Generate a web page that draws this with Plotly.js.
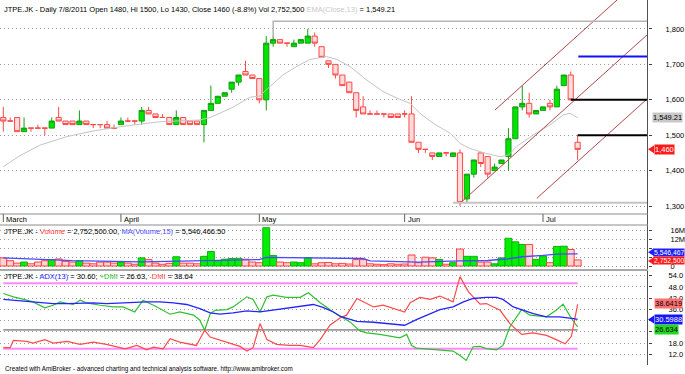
<!DOCTYPE html>
<html><head><meta charset="utf-8">
<script src="https://cdn.plot.ly/plotly-3.0.1.min.js"></script>
<style>html,body{margin:0;padding:0;background:#fff;}#chart{width:685px;height:374px;}</style>
</head><body><div id="chart"></div>
<script>
// ---------- data ----------
const opens  = [1550,1540,1550,1510,1520,1520,1520,1520,1550,1540, 1540,1530,1540,1530,1530,1530,1520,1530,1540,1540, 1540,1570,1560,1550,1550,1530,1550,1540,1540,1530, 1570,1590,1610,1630,1650,1680,1670,1660,1600,1760, 1770,1760,1750,1760,1760,1780,1750,1710,1700,1670, 1650,1620,1580,1560,1560,1560,1560,1560,1560,1560, 1480,1460,1450,1440,1450,1440,1450,1320,1390,1450, 1440,1400,1420,1440,1490,1580,1590,1560,1570,1590, 1580,1640,1670,1480];
const highs  = [1580,1550,1550,1550,1520,1530,1520,1550,1580,1540, 1540,1570,1540,1530,1530,1540,1530,1550,1550,1540, 1580,1580,1560,1560,1550,1570,1550,1540,1540,1570, 1640,1610,1620,1650,1670,1710,1670,1660,1780,1780, 1770,1760,1770,1770,1800,1790,1750,1710,1700,1670, 1650,1620,1610,1570,1570,1560,1560,1560,1570,1610, 1480,1460,1450,1450,1450,1450,1460,1390,1430,1450, 1440,1420,1430,1520,1580,1640,1620,1570,1580,1600, 1640,1670,1680,1500];
const lows   = [1510,1540,1510,1510,1510,1520,1500,1520,1540,1530, 1530,1530,1530,1520,1520,1520,1520,1530,1540,1530, 1530,1560,1550,1550,1530,1530,1530,1530,1530,1480, 1570,1590,1610,1620,1640,1670,1660,1590,1570,1750, 1760,1750,1750,1760,1760,1750,1720,1690,1660,1640, 1620,1550,1560,1560,1560,1550,1550,1550,1550,1480, 1450,1450,1430,1440,1440,1440,1300,1310,1380,1410, 1380,1400,1420,1400,1490,1570,1550,1560,1570,1570, 1580,1640,1600,1430];
const closes = [1540,1540,1510,1520,1520,1520,1520,1540,1540,1530, 1530,1540,1530,1530,1530,1520,1520,1540,1540,1540, 1570,1560,1550,1550,1530,1550,1530,1530,1530,1570, 1590,1610,1620,1650,1670,1670,1660,1600,1760,1770, 1760,1760,1760,1770,1780,1760,1720,1700,1670,1640, 1620,1570,1560,1560,1560,1560,1550,1550,1560,1480, 1460,1460,1440,1450,1450,1450,1310,1390,1430,1420, 1390,1410,1430,1490,1580,1590,1560,1570,1580,1580, 1630,1670,1600,1460];
// volume in millions of shares
const volumes = [3.7,2.4,1.3,1.8,1.0,1.8,2.4,2.9,3.2,2.1, 1.8,2.4,1.3,1.0,1.8,1.8,1.3,1.8,1.3,0.8, 3.7,2.9,1.3,0.8,1.2,4.2,1.3,1.3,1.0,4.4, 6.6,2.4,3.1,3.4,3.5,3.1,1.8,1.5,17.4,4.8, 1.8,1.5,1.8,1.5,3.7,1.0,1.5,1.6,1.0,1.2, 0.9,2.9,2.9,1.0,0.8,0.6,1.0,0.8,0.9,5.0, 1.5,4.0,3.7,3.0,0.8,1.5,7.7,4.4,4.4,1.8, 1.8,1.0,3.7,12.6,11.0,9.8,9.8,3.0,4.5,1.5, 8.9,9.0,7.5,2.75];
// EMA(Close,13) read at bar positions
const emaX = [0,2.4,5.3,9.2,13,16.9,22.6,28.4,29.9,33.2,35.6,37.1,38.5,40.4,42.4,44.3,46.7,48.2,50.1,52.5,54.9,57.3,58.8,60.2,62.1,64.6,66,67.4,69.3,71.8,73,74.2,76.5,79,80.9,81.9,83];
const emaY = [1411,1442,1472,1496,1512,1524,1538,1543,1550,1579,1607,1611,1637,1670,1694,1714,1722,1714,1694,1656,1623,1601,1590,1562,1534,1505,1477,1463,1451,1439,1444,1468,1500,1529,1557,1562,1549.21];
// MA(Volume,15) in millions
const maX = [0,5,10,20,30,37,38,45,52,53,60,66,70,73,75,78,80,83];
const maY = [3.7,3.2,2.4,1.9,2.3,2.9,3.9,3.7,3.4,2.3,1.8,2.3,2.5,3.3,4.2,4.8,5.4,5.5465];
// ADX(13), +DMI, -DMI
const adxX = [0,1.45,3.4,5.3,7.2,9.2,11.1,13.0,14.9,16.9,18.8,20.7,22.6,24.6,26.5,28.4,29.9,31.3,33.2,35.2,37.1,39.0,40.9,42.9,44.8,46.2,47.7,48.7,49.6,51.1,53.5,55.9,58.0,59.7,61.7,63.1,65.0,66.5,67.9,69.8,71.3,72.2,73.7,75.1,76.6,78.5,80.4,82.4,83];
const adxY = [41.3,40.9,40.0,39.5,39.1,39.1,39.5,39.5,39.1,39.5,39.5,40.0,40.0,39.5,38.6,36.4,34.1,33.4,34.1,35.2,34.6,35.5,36.4,37.7,38.6,37.0,34.6,32.2,31.1,29.6,29.1,28.4,27.5,30.5,33.7,35.9,37.3,40.0,41.8,42.4,42.4,41.3,37.3,35.5,33.7,32.0,32.0,31.1,30.60];
const pdiX = [0,1.45,3.4,4.3,6.0,7.2,8.2,9.2,10.1,11.1,12.0,14.0,15.9,17.3,19.0,20.2,22.2,24.1,25.5,27.5,28.4,29.1,29.9,30.6,32.3,33.2,35.2,36.1,37.1,38.1,39.0,40.9,42.9,44.1,45.8,47.7,48.7,50.1,51.5,52.5,54.4,57.3,58.3,59.0,59.7,62.1,65.0,66.0,66.9,67.9,68.9,69.8,71.3,72.2,73.2,74.9,76.1,78.5,79.9,80.9,82.1,83];
const pdiY = [44.5,42.7,40.9,40.0,36.8,38.2,40.0,39.1,38.6,40.9,39.5,38.2,37.3,37.3,34.6,40.9,37.3,33.4,34.6,32.9,30.2,24.8,33.7,35.5,35.9,37.3,42.7,41.3,34.6,42.7,43.6,42.4,42.4,44.9,39.5,34.6,32.5,29.3,24.6,23.4,22.6,20.8,22.6,16.7,15.3,14.4,13.7,11.3,8.7,16.0,16.2,15.0,14.4,16.7,26.6,35.9,32.9,32.0,35.5,38.8,31.1,26.63];
const mdiX = [0,1.0,1.45,3.4,4.3,6.0,7.2,9.2,11.1,13.0,14.9,16.4,17.6,19.3,20.7,21.7,23.1,24.1,25.5,27.9,29.1,29.9,32.3,34.2,35.2,36.1,37.1,38.1,39.5,41.4,42.9,44.8,45.8,47.2,48.7,49.6,51.1,52.0,53.5,54.9,56.8,58.0,58.8,60.2,61.7,63.1,65.0,66.0,67.2,68.9,69.8,71.8,73.2,74.9,76.6,78.5,79.9,81.2,82.1,83];
const mdiY = [15.5,15.5,19.4,18.9,18.0,19.8,18.0,18.9,17.3,18.5,17.3,15.8,14.9,16.7,14.4,15.8,14.9,20.3,18.5,16.7,24.8,21.2,18.5,16.2,13.7,15.5,28.4,19.8,17.3,16.7,16.7,15.5,19.8,27.5,31.5,32.9,41.8,40.0,37.3,38.2,35.9,34.6,39.5,42.4,41.3,43.1,40.0,53.5,45.5,38.8,39.1,35.5,28.4,22.6,23.4,22.1,19.8,17.6,21.6,38.64];
const adxLevels = [50,25,15];
// hand-drawn study lines
const trendAX=[71.05,93.3], trendAY=[1571,1963];
const trendBX=[66,93.3],    trendBY=[1307.6,1788];
const trendCX=[77.1,93.3],  trendCY=[1321.7,1607];
const blueLvlX=[83.1,93.3], blueLvlY=[1722,1722];
const blk1X=[82,93.3], blk1Y=[1600,1600];
const blk2X=[83,93.3], blk2Y=[1500,1500];
const grayTopX=[39,39,93.3], grayTopY=[1775,1822,1822];
const grayBotX=[65,93.3], grayBotY=[1309,1309];
// axis / labels
const monthNames = ['March','April','May','Jun','Jul'];
const monthStart = [0,17,37,58,78];
const priceTicks = [1300,1400,1500,1600,1700,1800];
const volTicks = [0,4,8,12,16];
const volTickText = ['0','','','12M','16M'];
const adxTicks = [12,18,24,30,36,42,48,54];
const adxTickText = ['12.0','18.0','','','36.0','42.0','48.0','54.0'];

// ---------- build ----------
const W=685,H=374;
const py = p => 1 - p/H;            // pixel row -> paper y
const px = p => p/W;                // pixel col -> paper x
const FONT = 'Liberation Sans, Arial, sans-serif';
const idx = opens.map((_,i)=>i);
const upI = idx.filter(i=>closes[i]>opens[i]);
const dnI = idx.filter(i=>closes[i]<=opens[i]);
const pick=(a,ids)=>ids.map(i=>a[i]);
const XR=[-0.477,93.17];

const GUP='#00e400', GUPL='#10a010', RDF='#ffdcdc', RDL='#ff4848';
function candle(ids, fill, line){
  const st={fillcolor:fill,line:{color:line,width:1}};
  return {type:'candlestick',x:pick(idx,ids),open:pick(opens,ids),high:pick(highs,ids),low:pick(lows,ids),close:pick(closes,ids),
    xaxis:'x',yaxis:'y',increasing:st,decreasing:st,whiskerwidth:0,hoverinfo:'skip'};
}
function line(x,y,color,width,ax,ay){return {type:'scatter',mode:'lines',x:x,y:y,line:{color:color,width:width},xaxis:ax||'x',yaxis:ay||'y',hoverinfo:'skip'};}

const up = idx.map(i=>closes[i]>opens[i]);
const traces=[
  line(emaX,emaY,'#c4c4c4',1),
  candle(upI,GUP,GUPL),
  candle(dnI,RDF,RDL),
  line(trendAX,trendAY,'#b04848',1),
  line(trendBX,trendBY,'#b04848',1),
  line(trendCX,trendCY,'#b04848',1),
  line(grayTopX,grayTopY,'#b4b4b4',1.5),
  line(grayBotX,grayBotY,'#c4c4c4',2),
  line(blueLvlX,blueLvlY,'#1010ff',2),
  line(blk1X,blk1Y,'#000000',2),
  line(blk2X,blk2Y,'#000000',2),
  {type:'bar',x:idx,y:volumes,xaxis:'x2',yaxis:'y2',hoverinfo:'skip',
   marker:{color:up.map(u=>u?'#00f000':'#ffd4d4'),line:{color:up.map(u=>u?'#10b010':'#ff4040'),width:1}}},
  line(maX,maY,'#4a4aff',1.3,'x2','y2'),
  line([0,83],[adxLevels[0],adxLevels[0]],'#ff88ff',2,'x3','y3'),
  line([0,83],[adxLevels[2],adxLevels[2]],'#ff88ff',2,'x3','y3'),
  line([0,83],[adxLevels[1],adxLevels[1]],'#505050',1,'x3','y3'),
  line(pdiX,pdiY,'#30c030',1.2,'x3','y3'),
  line(mdiX,mdiY,'#ff4a4a',1.2,'x3','y3'),
  line(adxX,adxY,'#2424ff',1.3,'x3','y3'),
];

const xa = (anchor)=>({domain:[0,px(648)],range:XR,anchor:anchor,showticklabels:false,showgrid:false,zeroline:false,ticks:'',showline:false,fixedrange:true,rangeslider:{visible:false}});
const ya = (o)=>Object.assign({side:'right',showgrid:true,gridcolor:'#9a9a9a',griddash:'1px,3px',gridwidth:1,zeroline:false,
  ticks:'outside',ticklen:3,tickcolor:'#404040',tickfont:{family:FONT,size:7.5,color:'#000'},showline:false,fixedrange:true},o);

const shapes=[
  {type:'line',xref:'paper',yref:'paper',x0:px(647.5),x1:px(647.5),y0:py(365),y1:1,line:{color:'#505050',width:1}},
  {type:'line',xref:'paper',yref:'paper',x0:0,x1:px(648),y0:py(214),y1:py(214),line:{color:'#8c8c8c',width:1}},
  {type:'line',xref:'paper',yref:'paper',x0:0,x1:px(648),y0:py(225),y1:py(225),line:{color:'#8c8c8c',width:1}},
  {type:'line',xref:'paper',yref:'paper',x0:0,x1:px(648),y0:py(270),y1:py(270),line:{color:'#a8a8a8',width:2}},
];
monthStart.forEach(m=>shapes.push({type:'line',xref:'x',yref:'paper',x0:m,x1:m,y0:py(214),y1:py(222),line:{color:'#606060',width:1}}));
// arrow heads of value labels
function arrow(yref,yv,h,col){shapes.push({type:'path',xref:'paper',yref:yref,path:`M ${px(648)} ${yv} L ${px(654)} ${yv+h} L ${px(654)} ${yv-h} Z`,fillcolor:col,line:{width:0}});}
const volBlueY = 6.3, volRedY = 2.3;   // label rows of the two volume value boxes
arrow('y',closes[83],11,'#ff1a1a');
arrow('y2',volBlueY,1.8,'#2020ff');
arrow('y2',volRedY,1.8,'#ff1a1a');
arrow('y3',adxY[adxY.length-1],2.1,'#1414ff');

const ann=[];
const A=(o)=>ann.push(Object.assign({showarrow:false,font:{family:FONT,size:7.5,color:'#000'}},o));
A({xref:'paper',yref:'paper',x:px(2),y:py(10),xanchor:'left',yanchor:'middle',
   text:'JTPE.JK - Daily 7/8/2011 Open 1480, Hi 1500, Lo 1430, Close 1460 (-8.8%) Vol 2,752,500 <span style="color:#c8c8c8">EMA(Close,13)</span> = 1,549.21'});
A({xref:'paper',yref:'paper',x:px(2),y:py(231),xanchor:'left',yanchor:'middle',
   text:'JTPE.JK - <span style="color:#ff4040">Volume</span> = 2,752,500.00, <span style="color:#4a4aff">MA(Volume,15)</span> = 5,546,466.50'});
A({xref:'paper',yref:'paper',x:px(2),y:py(276),xanchor:'left',yanchor:'middle',
   text:'JTPE.JK - <span style="color:#2424ff">ADX(13)</span> = 30.60, <span style="color:#30c030">+DMI</span> = 26.63, <span style="color:#ff4a4a">-DMI</span> = 38.64'});
A({xref:'paper',yref:'paper',x:px(3),y:py(368.5),xanchor:'left',yanchor:'middle',font:{family:FONT,size:6.3,color:'#000'},
   text:'Created with AmiBroker - advanced charting and technical analysis software. http://www.amibroker.com'});
monthNames.forEach((m,k)=>A({xref:'x',yref:'paper',x:monthStart[k],xshift:1,y:py(219.5),xanchor:'left',yanchor:'middle',text:m}));
const box=(yref,y,text,bg,fc,x0,fs)=>A({xref:'paper',yref:yref,x:px(x0),y:y,xanchor:'left',yanchor:'middle',text:text,bgcolor:bg,borderpad:0,font:{family:FONT,size:fs||7.5,color:fc}});
box('y',1549.21,'1,549.21','#c8c8c8','#000',652);
box('y',closes[83],'1,460','#ff1a1a','#fff',654);
box('y2',volBlueY,'5,546,467','#2020ff','#fff',653,6.8);
box('y2',volRedY,'2,752,500','#ff1a1a','#fff',653,6.8);
box('y3',39.0,'38.6419','#ff7070','#000',654);
box('y3',adxY[adxY.length-1],'30.5988','#1414ff','#fff',654);
box('y3',25.2,'26.634','#22d822','#000',654);

const layout={width:W,height:H,margin:{l:0,r:0,t:0,b:0},paper_bgcolor:'#fff',plot_bgcolor:'#fff',showlegend:false,
  boxgap:0.25,boxgroupgap:0,bargap:0,font:{family:FONT,size:7.5,color:'#000'},
  xaxis:xa('y'),xaxis2:xa('y2'),xaxis3:xa('y3'),
  yaxis:ya({domain:[py(214),1],range:[1277.4,1881.9],tickvals:priceTicks,tickformat:',d',ticklabelstandoff:12}),
  yaxis2:ya({domain:[py(268),py(226)],range:[-0.909,18.18],tickvals:volTicks,ticktext:volTickText,ticklabelstandoff:17}),
  yaxis3:ya({domain:[py(363),py(271)],range:[7.32,56.5],tickvals:adxTicks,ticktext:adxTickText,ticklabelstandoff:15}),
  shapes:shapes,annotations:ann};
Plotly.newPlot('chart',traces,layout,{displayModeBar:false,staticPlot:true});
</script></body></html>
